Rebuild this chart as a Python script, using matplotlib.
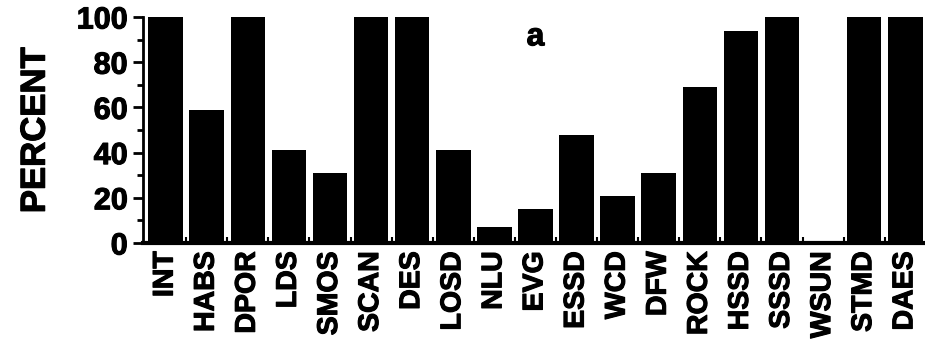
import matplotlib.pyplot as plt
import matplotlib.patheffects as pe
import numpy as np

plt.rcParams['font.family'] = ['Liberation Sans', 'DejaVu Sans']
plt.rcParams['font.weight'] = 'bold'

# categories and percent values
labels = ["INT", "HABS", "DPOR", "LDS", "SMOS", "SCAN", "DES", "LOSD", "NLU", "EVG",
          "ESSD", "WCD", "DFW", "ROCK", "HSSD", "SSSD", "WSUN", "STMD", "DAES"]
percent = [100, 59, 100, 41, 31, 100, 100, 41, 7, 15,
           48, 21, 31, 69, 94, 100, 0, 100, 100]
yticks = [0, 20, 40, 60, 80, 100]

heavy = [pe.withStroke(linewidth=0.8, foreground="black")]

fig = plt.figure(figsize=(9.25, 3.45), dpi=100)
ax = fig.add_axes([0.1546, 0.2957, 0.8454, 0.655])

x = np.arange(len(labels))
ax.bar(x, percent, width=0.84, color="black")

ax.set_xlim(-0.55, 18.48)
ax.set_ylim(0, 100)
ax.set_yticks(yticks)
ax.set_yticks(np.arange(10, 100, 20), minor=True)
ax.set_xticks(x)
ax.set_xticklabels(labels, rotation=90, fontsize=20.5, fontweight="bold")
ax.set_xticks(x[:-1] + 0.5, minor=True)
ax.tick_params(axis="y", which="major", labelsize=22, length=7, width=2, pad=4)
ax.tick_params(axis="y", which="minor", length=4, width=2)
ax.tick_params(axis="x", which="major", length=0, pad=6)
ax.tick_params(axis="x", which="minor", direction="in", length=4, width=1.5)
for t in ax.get_yticklabels() + ax.get_xticklabels():
    t.set_fontweight("bold")
    t.set_path_effects(heavy)

for s in ["top", "right"]:
    ax.spines[s].set_visible(False)
ax.spines["left"].set_linewidth(2)
ax.spines["bottom"].set_linewidth(3)

ax.set_ylabel("PERCENT", fontsize=25, fontweight="bold", labelpad=18, path_effects=heavy)
ax.text(9.0, 91, "a", fontsize=23, fontweight="bold", ha="center", va="center",
        path_effects=heavy)

fig.savefig("out.png", dpi=100)
